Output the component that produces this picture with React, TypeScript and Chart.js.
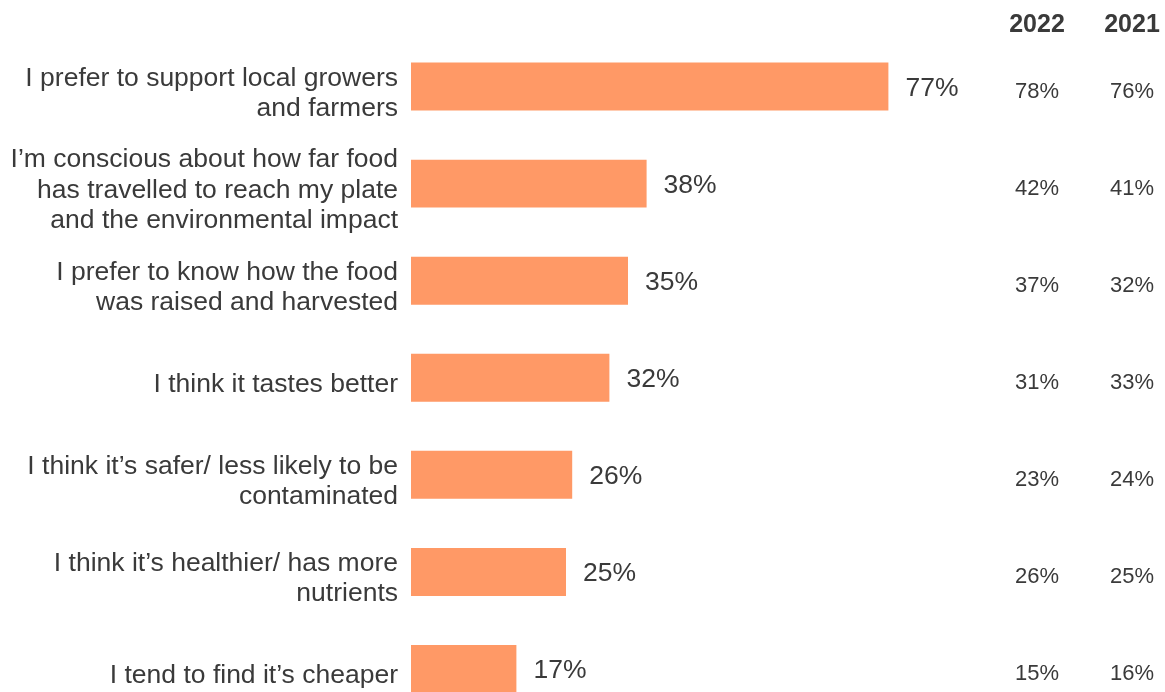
import React, { useEffect, useRef } from "react";
import { Chart, registerables } from "chart.js";

Chart.register(...registerables);

const categories: string[][] = [
  ["I prefer to support local growers", "and farmers"],
  ["I\u2019m conscious about how far food", "has travelled to reach my plate", "and the environmental impact"],
  ["I prefer to know how the food", "was raised and harvested"],
  ["I think it tastes better"],
  ["I think it\u2019s safer/ less likely to be", "contaminated"],
  ["I think it\u2019s healthier/ has more", "nutrients"],
  ["I tend to find it\u2019s cheaper"],
];
const currentValues = [77, 38, 35, 32, 26, 25, 17];
const columnHeaders = ["2022", "2021"];
const values2022 = [78, 42, 37, 31, 23, 26, 15];
const values2021 = [76, 41, 32, 33, 24, 25, 16];

const FONT = "'Liberation Sans', Arial, Helvetica, sans-serif";
const TEXT = "#3a3a3a";
const BAR = "#ff9966";

const W = 1165;
const H = 761;

const overlayPlugin = {
  id: "overlay",
  afterDatasetsDraw(chart: any) {
    const ctx = chart.ctx;
    const xs = chart.scales.x;
    const ys = chart.scales.y;
    const area = chart.chartArea;
    ctx.save();
    ctx.fillStyle = TEXT;
    // data labels
    ctx.font = `26.5px ${FONT}`;
    ctx.textAlign = "left";
    ctx.textBaseline = "middle";
    currentValues.forEach((v, i) => {
      const x = xs.getPixelForValue(v) + 17;
      const y = ys.getPixelForValue(i) + 2;
      ctx.fillText(`${v}%`, x, y);
    });
    // column headers
    const colX = [area.right + 6, area.right + 101];
    ctx.font = `bold 25px ${FONT}`;
    ctx.textAlign = "center";
    columnHeaders.forEach((h, j) => ctx.fillText(h, colX[j], 25));
    // column values
    ctx.font = `22px ${FONT}`;
    const cols = [values2022, values2021];
    cols.forEach((arr, j) => {
      arr.forEach((v, i) => {
        const y = ys.getPixelForValue(i) + 5;
        ctx.fillText(`${v}%`, colX[j], y);
      });
    });
    ctx.restore();
  },
};

export default function App() {
  const ref = useRef<HTMLCanvasElement | null>(null);
  useEffect(() => {
    if (!ref.current) return;
    const chart = new Chart(ref.current, {
      type: "bar",
      data: {
        labels: categories as any,
        datasets: [
          {
            data: currentValues,
            backgroundColor: BAR,
            borderWidth: 0,
            barPercentage: 0.494,
            categoryPercentage: 1,
          },
        ],
      },
      options: {
        indexAxis: "y",
        responsive: false,
        animation: false,
        layout: { padding: { top: 38, right: 134, bottom: 22.4, left: 0 } },
        plugins: { legend: { display: false }, tooltip: { enabled: false } },
        scales: {
          x: { min: 0, max: 100, display: false },
          y: {
            grid: { display: false, drawTicks: false },
            border: { display: false },
            ticks: {
              color: TEXT,
              padding: 13,
              labelOffset: 7,
              font: { family: FONT, size: 26.5, lineHeight: 1.15 },
            },
            afterFit: (s: any) => {
              s.width = 411;
            },
          },
        },
      },
      plugins: [overlayPlugin],
    });
    return () => chart.destroy();
  }, []);
  return (
    <div style={{ position: "fixed", left: 0, top: 0, width: W, height: 692, overflow: "hidden", background: "#fff" }}>
      <canvas ref={ref} width={W} height={H} style={{ width: W, height: H, display: "block" }} />
    </div>
  );
}
